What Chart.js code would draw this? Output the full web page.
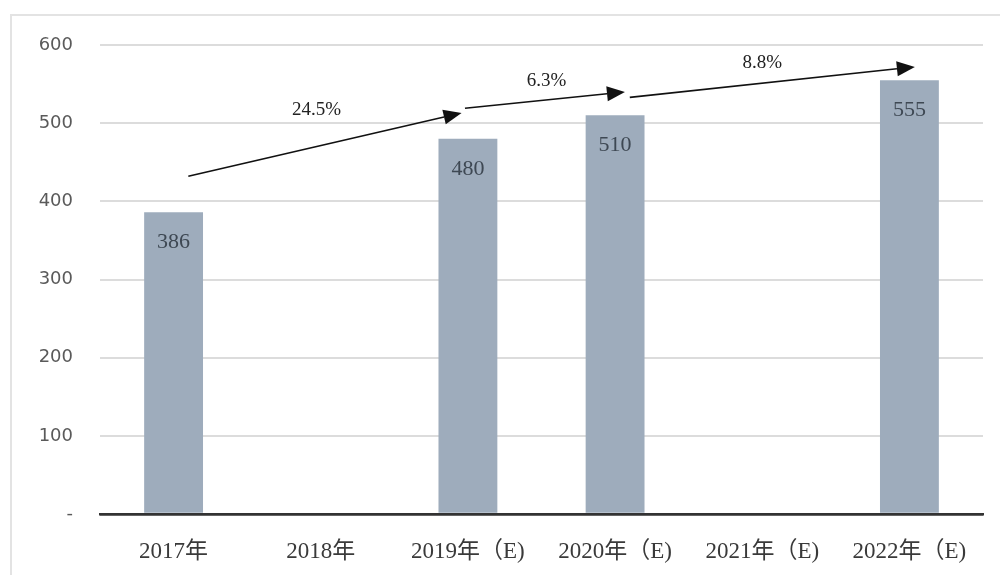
<!DOCTYPE html>
<html>
<head>
<meta charset="utf-8">
<script src="https://cdn.jsdelivr.net/npm/chart.js@4/dist/chart.umd.min.js"></script>
<style>
  body { margin: 0; background: #fff; }
  #wrap { position: relative; width: 1000px; height: 575px; }
  #frame { position: absolute; left: 10px; top: 14px; right: 0; bottom: 0;
           border-left: 2px solid #e3e3e3; border-top: 2px solid #e3e3e3; pointer-events: none; }
</style>
</head>
<body>
<div id="wrap">
  <canvas id="chart" width="1000" height="575"></canvas>
  <div id="frame"></div>
</div>
<script>
const years = ['2017年', '2018年', '2019年（E)', '2020年（E)', '2021年（E)', '2022年（E)'];
const sales = [386, null, 480, 510, null, 555];
const yTicks = [0, 100, 200, 300, 400, 500, 600];

// growth arrows: [fromIndex, fromValue, toIndex, toValue]
const growthArrows = [
  [0.10, 432, 1.957, 513],
  [1.98, 519, 3.067, 540],
  [3.10, 533, 5.037, 572]
];
// growth labels: [index, value, text]
const growthLabels = [
  [0.972, 517, '24.5%'],
  [2.535, 554, '6.3%'],
  [4.0, 577, '8.8%']
];

const serif = '"Liberation Serif", "Times New Roman", "Noto Sans CJK SC", serif';

const barValues = {
  id: 'barValues',
  afterDatasetsDraw(chart) {
    const ctx = chart.ctx;
    const meta = chart.getDatasetMeta(0);
    ctx.save();
    ctx.font = '22px ' + serif;
    ctx.fillStyle = '#3e4853';
    ctx.textAlign = 'center';
    ctx.textBaseline = 'middle';
    meta.data.forEach((bar, i) => {
      if (sales[i] == null) return;
      ctx.fillText(String(sales[i]), bar.x, bar.y + 30);
    });
    ctx.restore();
  }
};

const growth = {
  id: 'growth',
  afterDraw(chart) {
    const ctx = chart.ctx;
    const xs = chart.scales.x, ys = chart.scales.y;
    ctx.save();
    ctx.strokeStyle = '#111';
    ctx.fillStyle = '#111';
    ctx.lineWidth = 1.6;
    growthArrows.forEach(a => {
      const x1 = xs.getPixelForValue(a[0]), y1 = ys.getPixelForValue(a[1]);
      const x2 = xs.getPixelForValue(a[2]), y2 = ys.getPixelForValue(a[3]);
      const ang = Math.atan2(y2 - y1, x2 - x1);
      const len = 18, half = 7.5;
      const bx = x2 - len * Math.cos(ang), by = y2 - len * Math.sin(ang);
      ctx.beginPath();
      ctx.moveTo(x1, y1);
      ctx.lineTo(bx, by);
      ctx.stroke();
      ctx.beginPath();
      ctx.moveTo(x2, y2);
      ctx.lineTo(bx + half * Math.sin(ang), by - half * Math.cos(ang));
      ctx.lineTo(bx - half * Math.sin(ang), by + half * Math.cos(ang));
      ctx.closePath();
      ctx.fill();
    });
    ctx.font = '19px ' + serif;
    ctx.fillStyle = '#222';
    ctx.textAlign = 'center';
    ctx.textBaseline = 'middle';
    growthLabels.forEach(l => {
      ctx.fillText(l[2], xs.getPixelForValue(l[0]), ys.getPixelForValue(l[1]));
    });
    ctx.restore();
  }
};

new Chart(document.getElementById('chart'), {
  type: 'bar',
  data: {
    labels: years,
    datasets: [{
      data: sales,
      backgroundColor: '#9eacbc',
      categoryPercentage: 1,
      barPercentage: 0.4
    }]
  },
  options: {
    responsive: false,
    animation: false,
    layout: { padding: { top: 45, right: 17, left: 0, bottom: 0 } },
    plugins: { legend: { display: false }, tooltip: { enabled: false } },
    scales: {
      x: {
        grid: { display: false },
        border: { color: '#333', width: 2.5 },
        ticks: {
          color: '#3a3a3a',
          font: { family: serif, size: 23 },
          padding: 16,
          maxRotation: 0
        },
        afterFit(scale) { scale.height = 61; }
      },
      y: {
        min: 0,
        max: 600,
        afterBuildTicks(scale) { scale.ticks = yTicks.map(v => ({ value: v })); },
        grid: {
          drawTicks: false,
          color: c => c.tick.value === 0 ? '#333' : '#dcdcdc',
          lineWidth: c => c.tick.value === 0 ? 2.5 : 2
        },
        border: { display: false },
        ticks: {
          color: '#5a5a5a',
          font: { family: '"DejaVu Sans", sans-serif', size: 18 },
          padding: 27,
          callback: v => v === 0 ? '-' : v
        },
        afterFit(scale) { scale.width = 100; }
      }
    }
  },
  plugins: [barValues, growth]
});
</script>
</body>
</html>
